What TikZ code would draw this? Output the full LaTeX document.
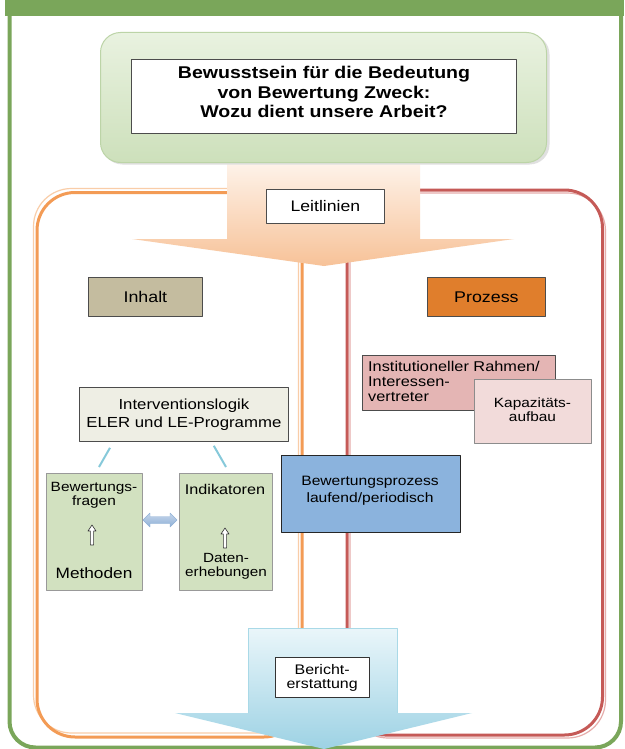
\documentclass[tikz,border=0pt]{standalone}
\usepackage{fontspec}
\setmainfont[FakeStretch=1.15]{Liberation Sans}
\definecolor{greenF}{HTML}{7AA65A}
\definecolor{topTop}{HTML}{E9F2E0}
\definecolor{topBot}{HTML}{CDE0BB}
\definecolor{topBorder}{HTML}{BCD4A7}
\definecolor{leitTop}{HTML}{FEF3EA}
\definecolor{leitBot}{HTML}{F7C298}
\definecolor{orangeF}{HTML}{F39B55}
\definecolor{orangeL}{HTML}{F9CDA8}
\definecolor{redF}{HTML}{C55A57}
\definecolor{redL}{HTML}{E6ADAB}
\definecolor{inhaltF}{HTML}{C4BC9F}
\definecolor{prozessF}{HTML}{E07E2C}
\definecolor{instF}{HTML}{E4B5B4}
\definecolor{kapF}{HTML}{F2DBDA}
\definecolor{intervF}{HTML}{EEEEE4}
\definecolor{greenBox}{HTML}{D2E1C0}
\definecolor{blueF}{HTML}{8BB3DD}
\definecolor{cyanL}{HTML}{86C9DA}
\definecolor{berTop}{HTML}{EAF6FA}
\definecolor{berBot}{HTML}{9DD2E4}
\definecolor{berBorder}{HTML}{A9D9E7}
\definecolor{dblTop}{HTML}{C5D6EB}
\definecolor{dblMid}{HTML}{EAF1F9}
\definecolor{dblBot}{HTML}{8FB0D6}
\begin{document}
\begin{tikzpicture}[x=1pt,y=-1pt,line join=round,
  rbox/.style={draw=black!70, line width=0.8pt, inner sep=0pt, anchor=north west, align=center},
  txt/.style={inner sep=0pt, align=center},
  cyanline/.style={draw=cyanL, line width=2pt},
  hup/.pic={\draw[black!80, fill=white, line width=0.6pt] (0,-10) -- (4,-4) -- (1.6,-4) -- (1.6,10) -- (-1.6,10) -- (-1.6,-4) -- (-4,-4) -- cycle;}
]
\useasboundingbox (0,0) rectangle (624,749);
\fill[white] (0,0) rectangle (624,749);

% outer green frame
\fill[greenF] (5,0) rectangle (624,16.5);
\draw[greenF, line width=4pt, rounded corners=26] (9.5,10) -- (9.5,747.5) -- (621,747.5) -- (621,10);

% orange and red frames (strong line plus offset light line)
\draw[orangeL, line width=1.2pt, rounded corners=38] (33.5,188.5) rectangle (298.5,733);
\draw[orangeF, line width=3pt, rounded corners=38] (37,192.5) rectangle (302,737);
\draw[redL, line width=1.2pt, rounded corners=38] (350,193) rectangle (605.5,738);
\draw[redF, line width=3pt, rounded corners=38] (347,190) rectangle (602.5,735);

% Leitlinien arrow
\shade[top color=leitTop, bottom color=leitBot] (227,162) -- (420,162) -- (420,239) -- (514,239) -- (324,266) -- (132,239) -- (227,239) -- cycle;

% top box with soft shadow
\fill[black!12, rounded corners=20] (102.5,34.5) rectangle (549.5,164.5);
\node[draw=topBorder, line width=1pt, rounded corners=20, top color=topTop, bottom color=topBot,
      minimum width=446, minimum height=130, anchor=north west, inner sep=0pt] (topbox) at (100,32) {};
\node[rbox, fill=white, minimum width=385, minimum height=74] (titlebox) at (131,59) {};
\node[txt, font=\fontsize{17}{19.3}\selectfont\bfseries] (title) at (324,92)
  {Bewusstsein für die Bedeutung\\von Bewertung Zweck:\\Wozu dient unsere Arbeit?};

% Leitlinien
\node[rbox, fill=white, minimum width=118, minimum height=34, font=\fontsize{15.3}{17}\selectfont] (leit) at (266,189) {Leitlinien};

% Inhalt / Prozess
\node[rbox, fill=inhaltF, minimum width=114, minimum height=39, font=\fontsize{15.5}{18}\selectfont] (inhalt) at (88,277) {Inhalt};
\node[rbox, fill=prozessF, minimum width=118, minimum height=39, font=\fontsize{15.5}{18}\selectfont] (prozess) at (427,277) {Prozess};

% Prozess side boxes
\node[rbox, fill=instF, minimum width=193, minimum height=55] (inst) at (362,355) {};
\node[txt, anchor=west, align=left, font=\fontsize{14.2}{15}\selectfont] (insttext) at (368,381)
  {Institutioneller Rahmen/\\Interessen-\\vertreter};
\node[rbox, draw=black!45, fill=kapF, minimum width=117, minimum height=64] (kap) at (474,379) {};
\node[txt, font=\fontsize{13.4}{14}\selectfont] (kaptext) at (532.5,410) {Kapazitäts-\\aufbau};

% Interventionslogik
\node[rbox, fill=intervF, minimum width=209, minimum height=54, font=\fontsize{14.6}{18}\selectfont] (interv) at (79,387) {Interventionslogik\\ELER und LE-Programme};

% green boxes
\node[rbox, draw=black!40, fill=greenBox, minimum width=96, minimum height=117] (fragen) at (46,473) {};
\node[rbox, draw=black!40, fill=greenBox, minimum width=93, minimum height=117] (ind) at (179,473) {};

\node[txt, font=\fontsize{13.4}{14}\selectfont] (fragentext) at (94,495) {Bewertungs-\\fragen};
\pic at (92,535) {hup};
\node[txt, font=\fontsize{15}{17}\selectfont] (methoden) at (94,573) {Methoden};

\node[txt, font=\fontsize{14.1}{17}\selectfont] (indtext) at (225,489) {Indikatoren};
\pic at (225,538) {hup};
\node[txt, font=\fontsize{13.3}{14}\selectfont] (daten) at (226,566) {Daten-\\erhebungen};

% cyan connectors
\draw[cyanline] ([shift={(31,6)}]interv.south west) -- ([shift={(53,-6)}]fragen.north west);
\draw[cyanline] ([shift={(-75,4)}]interv.south east) -- ([shift={(47,-6)}]ind.north west);

% double arrow
\shade[top color=dblTop, middle color=dblMid, bottom color=dblBot, draw=dblBot, line width=0.4pt]
  (143,520) -- (150,513) -- (150,516.5) -- (170,516.5) -- (170,513) -- (177,520) -- (170,527) -- (170,523.5) -- (150,523.5) -- (150,527) -- cycle;

% Bewertungsprozess
\node[rbox, draw=black!85, fill=blueF, minimum width=179, minimum height=77] (bproz) at (281,455) {};
\node[txt, font=\fontsize{13.6}{17}\selectfont] (bproztext) at (370,490.5) {Bewertungsprozess\\laufend/periodisch};

% Berichterstattung arrow
\shade[top color=berTop, bottom color=berBot] (248.5,628) -- (397.5,628) -- (397.5,713) -- (472,713) -- (324,749) -- (175,713) -- (248.5,713) -- cycle;
\draw[berBorder, line width=1pt] (248.5,713) -- (248.5,628) -- (397.5,628) -- (397.5,713);
\node[rbox, draw=black!80, fill=white, minimum width=94.5, minimum height=40, font=\fontsize{13.9}{14}\selectfont] (bericht) at (274.5,657) {Bericht-\\erstattung};
\end{tikzpicture}
\end{document}
